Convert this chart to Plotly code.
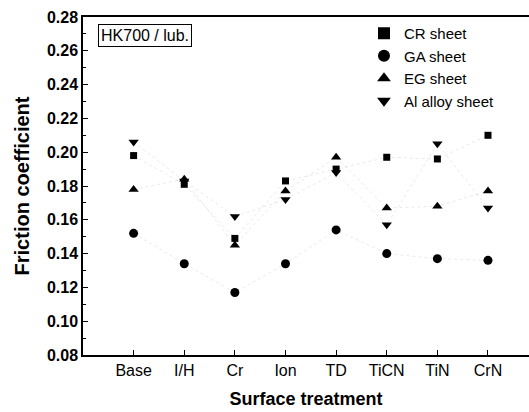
import plotly.graph_objects as go

# Surface treatments on the x axis
treatments = ["Base", "I/H", "Cr", "Ion", "TD", "TiCN", "TiN", "CrN"]

# Friction coefficient per sheet material
cr_sheet = [0.198, 0.181, 0.149, 0.183, 0.190, 0.197, 0.196, 0.210]
ga_sheet = [0.152, 0.134, 0.117, 0.134, 0.154, 0.140, 0.137, 0.136]
eg_sheet = [0.178, 0.184, 0.145, 0.177, 0.197, 0.167, 0.168, 0.177]
al_sheet = [0.206, 0.183, 0.162, 0.172, 0.188, 0.157, 0.205, 0.167]

y_ticks = [0.08, 0.10, 0.12, 0.14, 0.16, 0.18, 0.20, 0.22, 0.24, 0.26, 0.28]

xpos = list(range(1, len(treatments) + 1))
series = [
    ("CR sheet", cr_sheet, "square", 7),
    ("GA sheet", ga_sheet, "circle", 9),
    ("EG sheet", eg_sheet, "triangle-up", 9),
    ("Al alloy sheet", al_sheet, "triangle-down", 9),
]

fig = go.Figure()
# faint dotted connectors behind the markers
for name, vals, sym, size in series:
    fig.add_trace(go.Scatter(
        x=xpos, y=vals, mode="lines", showlegend=False, hoverinfo="skip",
        line=dict(color="rgba(0,0,0,0.09)", width=1, dash="dot"),
    ))
for name, vals, sym, size in series:
    fig.add_trace(go.Scatter(
        x=xpos, y=vals, name=name, mode="markers",
        marker=dict(symbol=sym, size=size, color="black"),
    ))

font = "Liberation Sans, Arial, sans-serif"
fig.update_layout(
    width=529, height=412,
    margin=dict(l=83, r=0, t=17, b=57),
    paper_bgcolor="white", plot_bgcolor="white",
    font=dict(family=font, color="black"),
    showlegend=True,
    legend=dict(
        x=0.63, y=1.0, xanchor="left", yanchor="top",
        bgcolor="rgba(0,0,0,0)", font=dict(size=15, family=font),
        itemsizing="constant", tracegroupgap=0, itemwidth=30,
    ),
    xaxis=dict(
        range=[0, 8.81], tickmode="array", tickvals=xpos, ticktext=treatments,
        ticks="inside", ticklen=5, tickwidth=1, tickcolor="black",
        showline=True, linecolor="black", linewidth=1.5, mirror=True,
        showgrid=False, zeroline=False, automargin=False,
        tickfont=dict(size=16, family=font),
        title=dict(text="<b>Surface treatment</b>", font=dict(size=18), standoff=14),
    ),
    yaxis=dict(
        range=[0.08, 0.28], tickmode="array", tickvals=y_ticks,
        ticktext=[f"<b>{v:.2f}</b>" for v in y_ticks],
        ticks="inside", ticklen=5, tickwidth=1, tickcolor="black",
        minor=dict(ticks="inside", ticklen=3, dtick=0.01, tickcolor="black"),
        showline=True, linecolor="black", linewidth=1.5, mirror=False,
        showgrid=False, zeroline=False, automargin=False,
        tickfont=dict(size=16, family=font),
        title=dict(text="<b>Friction coefficient</b>", font=dict(size=20), standoff=12),
    ),
    annotations=[dict(
        x=0.034, y=0.98, xref="paper", yref="paper", xanchor="left", yanchor="top",
        text="HK700 / lub.", showarrow=False, font=dict(size=16, family=font),
        bordercolor="black", borderwidth=1, borderpad=2,
    )],
)

fig.write_html("out.html")
